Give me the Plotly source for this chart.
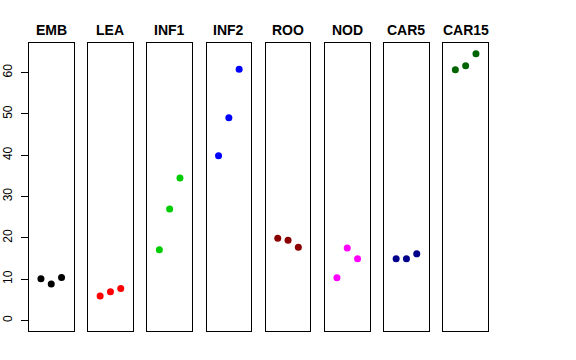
import plotly.graph_objects as go

groups = ["EMB", "LEA", "INF1", "INF2", "ROO", "NOD", "CAR5", "CAR15"]
values = [
    [10.1, 8.8, 10.4],
    [5.9, 6.9, 7.7],
    [17.1, 27.0, 34.5],
    [39.9, 49.1, 60.8],
    [19.9, 19.4, 17.7],
    [10.3, 17.5, 14.9],
    [14.9, 14.9, 16.1],
    [60.7, 61.7, 64.6],
]
colors = ["#000000", "#FF0000", "#00CD00", "#0000FF", "#8B0000", "#FF00FF", "#00008B", "#006400"]
xpos = [1, 2, 3]
ytick_vals = [0, 10, 20, 30, 40, 50, 60]

W, H = 576, 360
ml, mr, mt, mb = 29, 88, 43, 29
pw = W - ml - mr
ph = H - mt - mb
pitch = 59.2
panel_w = 44.5

ymax = 64.6
yr = [0 - 0.04 * ymax, ymax + 0.04 * ymax]
xr = [0 - 0.16, 4 + 0.16]

fig = go.Figure()
layout = dict(
    width=W, height=H,
    margin=dict(l=ml, r=mr, t=mt, b=mb, autoexpand=False),
    paper_bgcolor="white", plot_bgcolor="white",
    showlegend=False, hovermode=False,
    font=dict(family="Liberation Sans, Arial, sans-serif", color="black"),
)
annotations = []
for i, (g, vals, c) in enumerate(zip(groups, values, colors)):
    suffix = "" if i == 0 else str(i + 1)
    d0 = i * pitch / pw
    d1 = min((i * pitch + panel_w) / pw, 1)
    fig.add_trace(go.Scatter(
        x=xpos, y=vals, mode="markers",
        marker=dict(color=c, size=7, line=dict(width=0)),
        xaxis="x" + suffix, yaxis="y" + suffix,
    ))
    layout["xaxis" + suffix] = dict(
        domain=[d0, d1], range=xr, showgrid=False, zeroline=False,
        showticklabels=False, ticks="", showline=True, linecolor="black",
        linewidth=1, mirror=True, anchor="y" + suffix, fixedrange=True,
        automargin=False,
    )
    ya = dict(
        domain=[0, 1], range=yr, showgrid=False, zeroline=False,
        showline=True, linecolor="black", linewidth=1, mirror=True,
        anchor="x" + suffix, fixedrange=True, automargin=False,
    )
    if i == 0:
        ya.update(tickmode="array", tickvals=ytick_vals, ticks="outside",
                  ticklen=7, tickcolor="black", tickangle=-90,
                  ticklabelstandoff=4,
                  tickfont=dict(size=12, color="black"))
    else:
        ya.update(showticklabels=False, ticks="")
    layout["yaxis" + suffix] = ya
    annotations.append(dict(
        text="<b>" + g + "</b>", x=(d0 + d1) / 2, xref="paper",
        y=1 + 13 / ph, yref="paper", yanchor="middle", xanchor="center",
        showarrow=False, font=dict(size=14, color="black"),
    ))
layout["annotations"] = annotations
fig.update_layout(**layout)
fig.write_html("out.html", config={"displayModeBar": False},
               post_script="document.body.style.margin='0';")
